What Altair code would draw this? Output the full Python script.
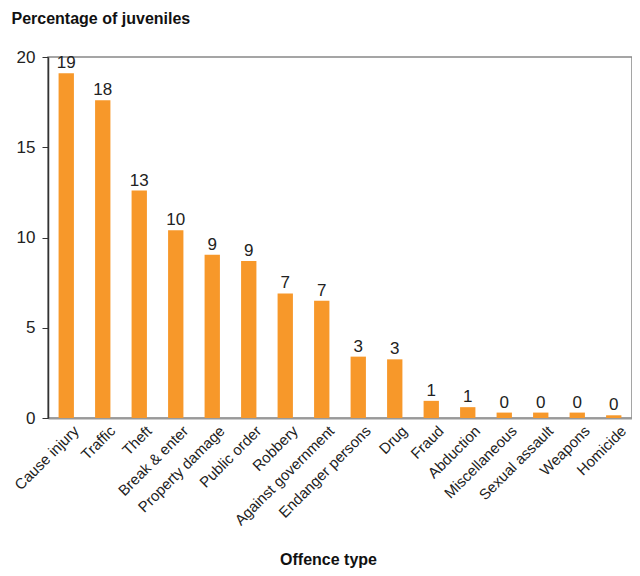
import altair as alt
import pandas as pd

categories = ["Cause injury", "Traffic", "Theft", "Break & enter", "Property damage",
              "Public order", "Robbery", "Against government", "Endanger persons", "Drug",
              "Fraud", "Abduction", "Miscellaneous", "Sexual assault", "Weapons", "Homicide"]
values = [19.1, 17.6, 12.6, 10.4, 9.05, 8.7, 6.9, 6.5, 3.4, 3.25, 0.95, 0.6, 0.3, 0.3, 0.3, 0.15]
labels = ["19", "18", "13", "10", "9", "9", "7", "7", "3", "3", "1", "1", "0", "0", "0", "0"]

df = pd.DataFrame({"cat": categories, "val": values, "lab": labels})
FONT = "Liberation Sans"

x = alt.X("cat:N", sort=categories, title="Offence type",
          scale=alt.Scale(paddingInner=0.58, paddingOuter=0.29),
          axis=alt.Axis(labelAngle=-45, labelFontSize=15, labelColor="#222", ticks=False,
                        domainColor="#999", domainWidth=2, labelPadding=5, labelOffset=5,
                        titleFontSize=16, titleFontWeight="bold", titleColor="#111",
                        titleBaseline="alphabetic", titleY=146, titleX=280))
y = alt.Y("val:Q", title="Percentage of juveniles",
          scale=alt.Scale(domain=[0, 20]),
          axis=alt.Axis(values=[0, 5, 10, 15, 20], grid=False, labelFontSize=17,
                        labelColor="#222", tickColor="#333", tickSize=6, domainColor="#333",
                        domainWidth=1.5, labelPadding=7,
                        titleAngle=0, titleAlign="left", titleBaseline="middle",
                        titleX=-37, titleY=-39, titleFontSize=16, titleFontWeight="bold",
                        titleColor="#111"))

bars = alt.Chart(df).mark_bar(color="#F7982A").encode(x=x, y=y)
text = alt.Chart(df).mark_text(dy=-10, fontSize=17, color="#222", font=FONT).encode(
    x=alt.X("cat:N", sort=categories), y="val:Q", text="lab:N")

chart = (bars + text).properties(
    width=584, height=361,
    autosize=alt.AutoSizeParams(type="none"),
    padding={"left": 40, "top": 49, "right": 0, "bottom": 150},
).configure(font=FONT).configure_view(stroke="#888", strokeWidth=1.5)

chart.save("out.html", embed_options={"renderer": "svg", "actions": False})
